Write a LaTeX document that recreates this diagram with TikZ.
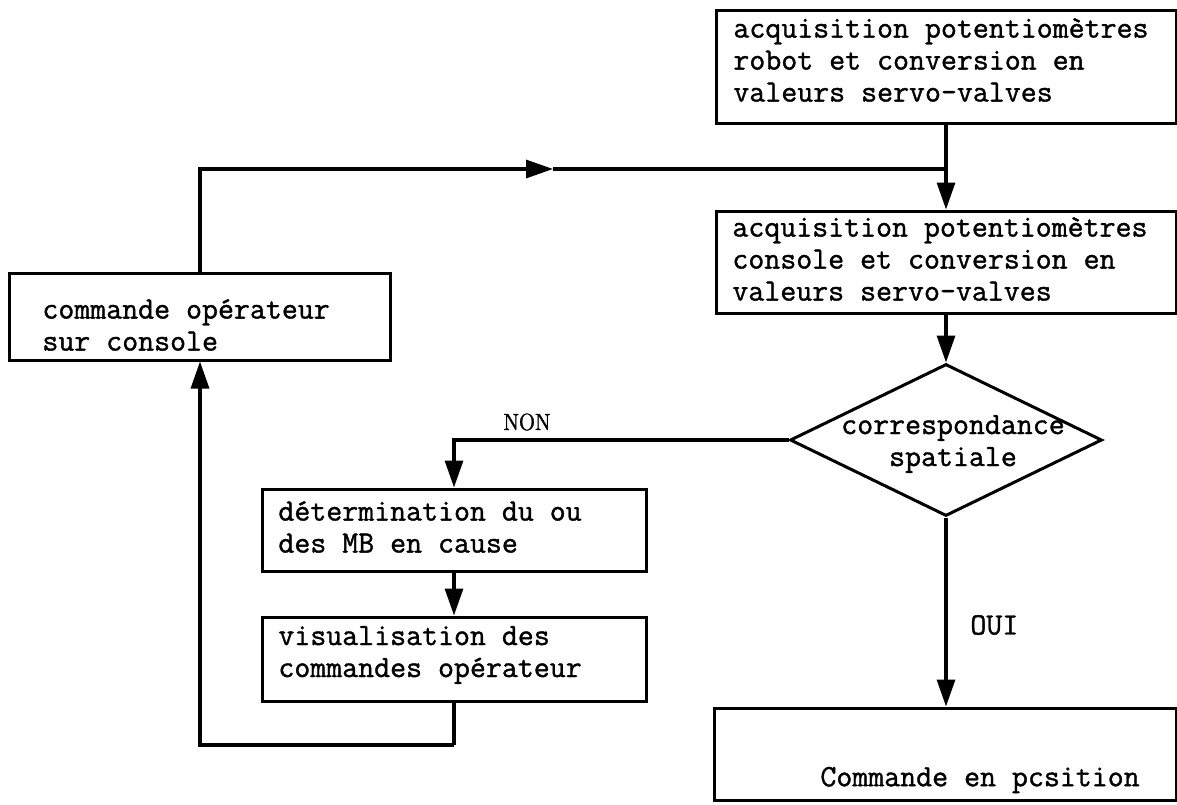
\documentclass[tikz,border=0pt]{standalone}
\usepackage{fontspec}
\usetikzlibrary{arrows.meta,shapes.geometric}
\newfontfamily\typewriter{Latin Modern Mono}[FakeBold=1.2]
\newfontfamily\labelserif{Latin Modern Roman}[FakeBold=1.6]

\tikzset{
  frame/.style={draw, line width=1.5pt, rectangle, inner sep=0pt},
  decision/.style={draw, line width=1.5pt, diamond, inner sep=0pt},
  txt/.style={inner sep=0pt, font=\typewriter\fontsize{15.5}{16}\selectfont, align=left},
  flow/.style={line width=1.6pt, -{Triangle[length=13.5pt,width=9pt]}},
  wire/.style={line width=1.6pt},
  answer/.style={inner sep=0pt, font=\labelserif\fontsize{11.7}{13}\selectfont}
}

\begin{document}
\begin{tikzpicture}[x=0.5pt, y=-0.5pt]
  \useasboundingbox (0,0) rectangle (1177,804);

  % process boxes
  \node[frame, minimum width=230pt, minimum height=56.5pt] (robot) at (946,66.5) {};
  \node[frame, minimum width=230pt, minimum height=51pt]   (acq)   at (946,262) {};
  \node[frame, minimum width=190.5pt, minimum height=43.5pt] (cons) at (200,316.5) {};
  \node[decision, minimum width=156pt, minimum height=76pt] (dec) at (946,440) {};
  \node[frame, minimum width=192pt, minimum height=41pt] (det) at (454,530) {};
  \node[frame, minimum width=192pt, minimum height=42pt] (vis) at (454,659) {};
  \node[frame, minimum width=231pt, minimum height=46pt] (pos) at (945,754) {};

  % box texts
  \node[txt, anchor=west] (robot-t) at (733,60)
    {acquisition potentiomètres\\robot et conversion en\\valeurs servo-valves};
  \node[txt, anchor=west] (acq-t) at (732,259)
    {acquisition potentiomètres\\console et conversion en\\valeurs servo-valves};
  \node[txt, anchor=west] (cons-t) at (42,325)
    {commande opérateur\\sur console};
  \node[txt, align=center] (dec-t) at (953,444)
    {correspondance\\spatiale};
  \node[txt, anchor=west] (det-t) at (278,527)
    {détermination du ou\\des MB en cause};
  \node[txt, anchor=west] (vis-t) at (278,655)
    {visualisation des\\commandes opérateur};
  \node[txt, anchor=west] (pos-t) at (820,780) {Commande en pcsition};

  % branch labels
  \node[answer] (non) at (527,422) {\scalebox{0.9}[1]{NON}};
  \node[txt, anchor=west] (oui) at (970,625) {OUI};

  % connectors
  \coordinate (mid) at (553,169);
  \coordinate (join) at (946,169);
  \coordinate (low) at (454,745);

  \draw[flow] (robot.south) -- (acq.north);
  \draw[flow] (cons.north) |- (mid);
  \draw[wire] (mid) -- (join);
  \draw[flow] (acq.south) -- (dec.north);
  \draw[flow] (dec.west) -| (det.north);
  \draw[flow] (det.south) -- (vis.north);
  \draw[wire] (vis.south) -- (low);
  \draw[flow] (low) -| (cons.south);
  \draw[flow] (dec.south) -- (dec.south |- pos.north);
\end{tikzpicture}
\end{document}
